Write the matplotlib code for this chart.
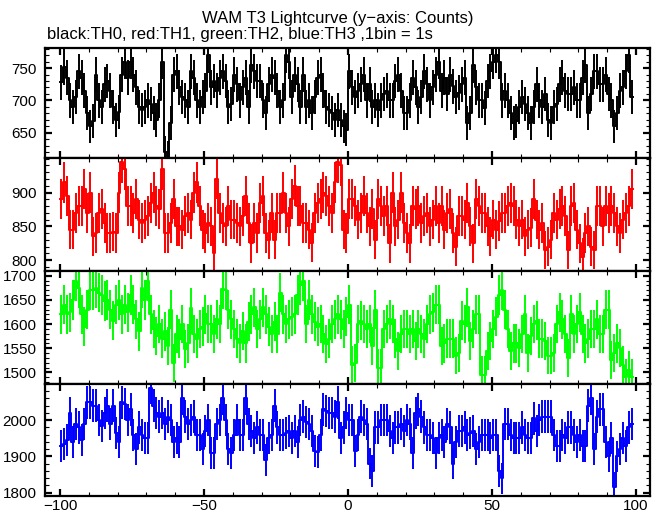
import numpy as np
import matplotlib
matplotlib.use("Agg")
import matplotlib.pyplot as plt
from matplotlib.ticker import MultipleLocator, FixedLocator

plt.rcParams['font.family'] = ['Liberation Sans', 'DejaVu Sans']

# time bins (1 s), first bin starts at -100 s
t_start = -100
n_bins = 199

# TH0 (black) counts per bin
th0 = [728, 752, 735, 700, 690, 705, 745, 735, 715, 680,
       660, 668, 740, 700, 690, 725, 730, 715, 690, 670,
       682, 740, 760, 735, 760, 740, 720, 690, 685, 690,
       700, 695, 680, 670, 700, 760, 620, 612, 665, 740,
       745, 720, 705, 700, 690, 745, 735, 700, 690, 705,
       715, 770, 720, 730, 715, 735, 745, 730, 690, 695,
       740, 725, 700,
       720, 735, 690, 755, 745, 730, 730, 700, 680, 725,
       740, 735, 715, 690, 700, 770, 760, 705, 740, 725,
       690, 740, 690, 700, 680, 705, 735, 740, 715, 690,
       685, 680, 670, 685, 670, 660, 655, 745, 720, 705,
       715, 725, 740, 700, 725, 690, 700, 685, 700, 710,
       715, 700, 700, 730, 740, 715, 680, 680, 700, 735,
       720, 690, 705, 745, 725, 700, 720, 740, 760, 715,
       735, 710,
       740, 722, 705, 712, 725, 735, 665, 680, 755, 720,
       700, 700, 688, 730, 745, 760, 770, 760, 700, 715,
       700, 680, 665, 668, 690, 705, 695, 680, 665, 690,
       725, 700, 690, 710, 670, 665, 690, 695, 725, 735,
       715, 710, 710, 720, 700, 700, 735, 755, 680, 710,
       745, 745, 725, 725, 740, 710, 700, 660, 680, 715,
       720, 745, 770, 705]

# TH1 (red)
th1 = [890, 915, 895, 845, 845, 870, 880, 880, 905, 870,
       900, 835, 840, 870, 875, 855, 840, 840, 842, 840,
       900, 945, 935, 880, 880, 870, 890, 860, 855, 860,
       865, 885, 900, 880, 875, 935, 840, 840, 855, 890,
       850, 850, 845, 865, 870, 860, 900, 915, 880, 845,
       840, 855, 850, 810, 920, 870, 855, 850, 880, 860,
       860, 855, 850,
       865, 895, 855, 825, 855, 840, 885, 895, 840, 830,
       870, 830, 870, 870, 900, 870, 850, 890, 910, 880,
       880, 855, 855, 845, 826, 870, 885, 890, 900, 895,
       880, 870, 915, 945, 940, 845, 840, 890, 890, 880,
       860, 870, 895, 870, 850, 875, 830, 890, 880, 865,
       880, 825, 900, 850, 860, 900, 855, 840, 825, 880,
       875, 880, 855, 865, 870, 850, 860, 880, 855, 880,
       845, 870,
       875, 840, 820, 865, 865, 860, 885, 850, 825, 890,
       880, 870, 870, 850, 835, 860, 845, 858, 870, 870,
       880, 885, 880, 860, 850, 860, 835, 845, 848, 890,
       860, 845, 855, 815, 820, 830, 870, 860, 875, 880,
       865, 815, 880, 885, 845, 825, 805, 840, 850, 820,
       815, 880, 880, 850, 880, 870, 880, 870, 850, 840,
       860, 870, 880, 905]

# TH2 (green)
th2 = [1620, 1640, 1620, 1625, 1650, 1690, 1675, 1620, 1595, 1630,
       1670, 1670, 1675, 1665, 1660, 1648, 1650, 1630, 1607, 1640,
       1650, 1620, 1640, 1625, 1660, 1640, 1610, 1585, 1675, 1650,
       1690, 1620, 1590, 1575, 1600, 1570, 1585, 1555, 1630, 1520,
       1580, 1570, 1600, 1548, 1560, 1634, 1580, 1570, 1590, 1595,
       1620, 1600, 1600, 1580, 1610, 1600, 1672, 1670, 1630, 1610,
       1590, 1570, 1560,
       1586, 1560, 1605, 1620, 1635, 1590, 1610, 1635, 1620, 1595,
       1580, 1605, 1580, 1665, 1620, 1600, 1610, 1615, 1620, 1660,
       1680, 1690, 1600, 1650, 1620, 1605, 1595, 1600, 1580, 1558,
       1570, 1600, 1610, 1620, 1610, 1590, 1615, 1640, 1515, 1520,
       1600, 1607, 1600, 1590, 1600, 1555, 1630, 1510, 1510, 1590,
       1600, 1610, 1600, 1570, 1545, 1580, 1590, 1590, 1580, 1590,
       1565, 1590, 1580, 1570, 1600, 1620, 1625, 1640, 1640, 1555,
       1560, 1570,
       1570, 1570, 1535, 1540, 1607, 1600, 1635, 1565, 1590, 1620,
       1620, 1495, 1495, 1545, 1565, 1590, 1615, 1660, 1670, 1630,
       1590, 1545, 1560, 1560, 1550, 1580, 1620, 1540, 1575, 1600,
       1607, 1570, 1570, 1565, 1535, 1535, 1540, 1600, 1625, 1610,
       1580, 1530, 1620, 1580, 1600, 1625, 1580, 1560, 1570, 1590,
       1590, 1610, 1580, 1580, 1630, 1630, 1525, 1540, 1560, 1550,
       1515, 1490, 1505, 1490]

# TH3 (blue)
th3 = [1930, 1935, 1945, 2020, 1940, 1990, 1980, 1945, 1990, 2050,
       2050, 2040, 2040, 2000, 1985, 2020, 2040, 1990, 2040, 1965,
       1940, 2050, 2045, 2000, 2030, 1960, 1920, 1980, 1960, 1950,
       1950, 2090, 2040, 2020, 2010, 2020, 1990, 2010, 2000, 1940,
       1950, 1940, 2060, 2010, 1990, 2000, 2010, 1960, 1960, 1920,
       1970, 2000, 1910, 1910, 1990, 2000, 2060, 2000, 1920, 1910,
       1960, 2000, 1960,
       1960, 2060, 1990, 1970, 1950, 1980, 1960, 1960, 1890, 1950,
       1960, 2040, 1980, 1960, 1960, 1965, 1970, 1950, 1970, 1940,
       2000, 2010, 1995, 1990, 1970, 1915, 1913, 1960, 2030, 2025,
       2020, 2020, 2010, 2050, 1950, 1980, 2020, 2000, 2000, 1916,
       1960, 2010, 2000, 1990, 1880, 1860, 1980, 1980, 2000, 2000,
       2000, 1970, 1950, 1980, 1980, 1990, 1970, 2000, 1990, 1910,
       2020, 2030, 2010, 1980, 1960, 1960, 1950, 1910, 1950, 1960,
       1940, 1990,
       1980, 1880, 1940, 1970, 1970, 1980, 1960, 1965, 1970, 1920,
       1940, 1960, 1960, 1960, 1950, 1960, 1960, 1860, 1840, 1990,
       1990, 1960, 1950, 1950, 1950, 1980, 1960, 1950, 1950, 2005,
       1970, 2000, 2010, 2010, 2010, 2010, 1960, 1930, 1930, 1960,
       1950, 1980, 1980, 1960, 1940, 1960, 1930, 1930, 2040, 2060,
       1920, 2010, 2030, 2030, 1940, 1900, 1950, 1815, 1900, 1920,
       1950, 1930, 1980, 1990]

series = [th0, th1, th2, th3]
colors = ['black', '#ff0000', '#00ff00', '#0000ff']
ylims = [(611, 781), (784, 951), (1476, 1710), (1791, 2100)]
yticks = [[650, 700, 750], [800, 850, 900],
          [1500, 1550, 1600, 1650, 1700], [1800, 1900, 2000]]
minor = [10, 10, 10, 20]

# panel rectangles (pixels: top, bottom) -> figure fractions
W, H = 662, 515
rows = [(48, 158), (158, 271), (271, 384), (384, 496)]

fig = plt.figure(figsize=(W / 100, H / 100), dpi=100)

t = t_start + np.arange(n_bins)
for i, (vals, col) in enumerate(zip(series, colors)):
    top, bot = rows[i]
    ax = fig.add_axes([45 / W, 1 - bot / H, 605 / W, (bot - top) / H])
    v = np.array(vals, dtype=float)
    err = np.sqrt(v)
    xs = np.append(t, t[-1] + 1)
    ys = np.append(v, v[-1])
    ax.step(xs, ys, where='post', color=col, lw=1.4)
    ax.vlines(t + 0.5, v - err, v + err, color=col, lw=1.4)
    ax.set_xlim(-105.2, 104.9)
    ax.set_ylim(*ylims[i])
    ax.xaxis.set_major_locator(MultipleLocator(50))
    ax.xaxis.set_minor_locator(MultipleLocator(10))
    ax.yaxis.set_major_locator(FixedLocator(yticks[i]))
    ax.yaxis.set_minor_locator(MultipleLocator(minor[i]))
    ax.tick_params(which='both', direction='in', top=True, right=True,
                   labelsize=11)
    ax.tick_params(axis='y', pad=6)
    ax.tick_params(axis='x', pad=2)
    ax.tick_params(which='major', length=5, width=1.6)
    ax.tick_params(which='minor', length=3, width=0.8)
    for s in ax.spines.values():
        s.set_linewidth(1.6)
    if i < 3:
        ax.tick_params(labelbottom=False)

fig.text(0.51, 1 - 18 / H, "WAM T3 Lightcurve (y\u2212axis: Counts)",
         ha='center', va='center', fontsize=12)
fig.text(47 / W, 1 - 35 / H, "black:TH0, red:TH1, green:TH2, blue:TH3 ,1bin = 1s",
         ha='left', va='center', fontsize=12)

fig.savefig("out.png", dpi=100)
